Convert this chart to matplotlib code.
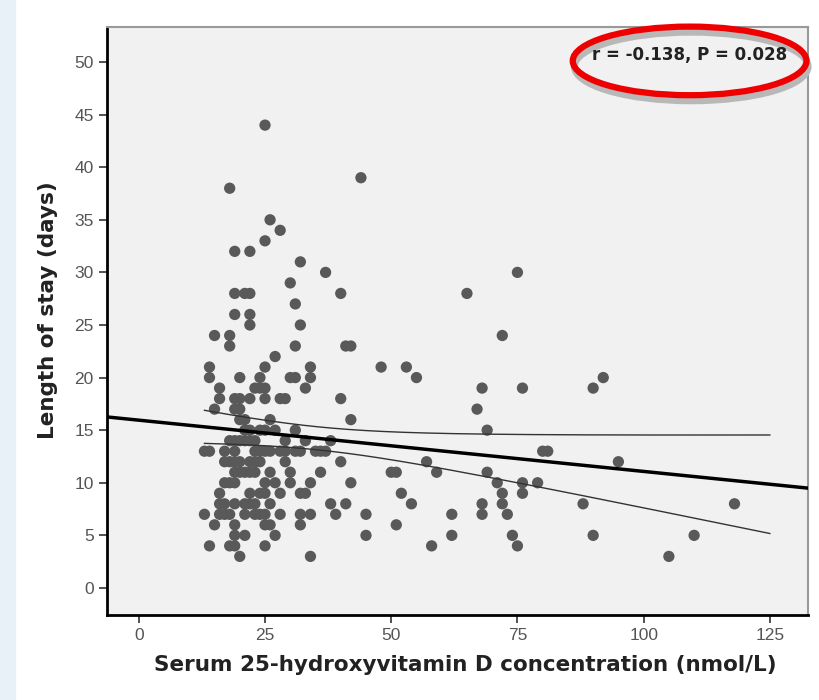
import numpy as np
import matplotlib
matplotlib.use("Agg")
import matplotlib.pyplot as plt
from matplotlib.patches import Ellipse, Rectangle

plt.rcParams["font.family"] = ["Liberation Sans", "DejaVu Sans"]

# Serum 25(OH)D (nmol/L) and length of stay (days)
vit_d = [
    25, 44, 18, 26, 28, 25, 19, 22, 32, 37, 75, 30,
    19, 21, 22, 40, 65, 31, 19, 22, 22, 32, 15, 18, 72,
    18, 31, 41, 42, 27, 14, 25, 34, 48, 53,
    14, 20, 24, 30, 31, 34, 55, 92,
    16, 23, 24, 25, 33, 68, 76, 90,
    16, 19, 20, 22, 25, 28, 29, 40,
    15, 19, 20, 67,
    20, 21, 26, 42,
    21, 22, 24, 25, 27, 31, 69,
    18, 19, 20, 21, 22, 23, 29, 33, 38,
    13, 14, 17, 19, 23, 24, 25, 26, 28, 29, 31, 32, 35, 36, 37, 80, 81,
    17, 18, 19, 20, 22, 23, 24, 29, 40, 57, 95,
    19, 20, 21, 22, 23, 26, 30, 36, 50, 51, 59, 69,
    17, 18, 19, 25, 27, 30, 34, 42, 71, 76, 79,
    16, 22, 24, 25, 28, 32, 33, 52, 72, 76,
    16, 17, 19, 21, 22, 23, 26, 38, 41, 54, 68, 72, 88, 118,
    13, 16, 17, 18, 21, 23, 24, 25, 28, 32, 34, 39, 45, 62, 68, 73,
    15, 19, 25, 26, 32, 51,
    19, 21, 27, 45, 62, 74, 90, 110,
    14, 18, 19, 25, 58, 75,
    20, 34, 105,
]
stay_days = [
    44, 39, 38, 35, 34, 33, 32, 32, 31, 30, 30, 29,
    28, 28, 28, 28, 28, 27, 26, 26, 25, 25, 24, 24, 24,
    23, 23, 23, 23, 22, 21, 21, 21, 21, 21,
    20, 20, 20, 20, 20, 20, 20, 20,
    19, 19, 19, 19, 19, 19, 19, 19,
    18, 18, 18, 18, 18, 18, 18, 18,
    17, 17, 17, 17,
    16, 16, 16, 16,
    15, 15, 15, 15, 15, 15, 15,
    14, 14, 14, 14, 14, 14, 14, 14, 14,
    13, 13, 13, 13, 13, 13, 13, 13, 13, 13, 13, 13, 13, 13, 13, 13, 13,
    12, 12, 12, 12, 12, 12, 12, 12, 12, 12, 12,
    11, 11, 11, 11, 11, 11, 11, 11, 11, 11, 11, 11,
    10, 10, 10, 10, 10, 10, 10, 10, 10, 10, 10,
    9, 9, 9, 9, 9, 9, 9, 9, 9, 9,
    8, 8, 8, 8, 8, 8, 8, 8, 8, 8, 8, 8, 8, 8,
    7, 7, 7, 7, 7, 7, 7, 7, 7, 7, 7, 7, 7, 7, 7, 7,
    6, 6, 6, 6, 6, 6,
    5, 5, 5, 5, 5, 5, 5, 5,
    4, 4, 4, 4, 4, 4,
    3, 3, 3,
]
stats_label = "r = -0.138, P = 0.028"
x_ticks = [0, 25, 50, 75, 100, 125]
y_ticks = [0, 5, 10, 15, 20, 25, 30, 35, 40, 45, 50]

x = np.array(vit_d, dtype=float)
y = np.array(stay_days, dtype=float)

# linear fit + 95% CI of the mean
n = len(x)
slope, intercept = np.polyfit(x, y, 1)
resid = y - (intercept + slope * x)
s = np.sqrt(np.sum(resid ** 2) / (n - 2))
xx = np.linspace(x.min(), 125, 200)
se = s * np.sqrt(1 / n + (xx - x.mean()) ** 2 / np.sum((x - x.mean()) ** 2))
fit = intercept + slope * xx

fig = plt.figure(figsize=(8.2, 7), dpi=100, facecolor="white")
fig.patches.append(Rectangle((0, 0), 0.018, 1, transform=fig.transFigure,
                             color="#e8f0f8", zorder=0))
ax = fig.add_axes([0.1305, 0.121, 0.8545, 0.84])
ax.set_facecolor("#f0f1f0")

ax.scatter(x, y, s=66, color="#595959", edgecolors="none", zorder=3)

xl = np.array([-6.3, 132.5])
ax.plot(xl, intercept + slope * xl, color="black", lw=2.5, zorder=4)
ax.plot(xx, fit + 1.97 * se, color="#333333", lw=1.0, zorder=4)
ax.plot(xx, fit - 1.97 * se, color="#333333", lw=1.0, zorder=4)

ax.set_xlim(-6.3, 132.5)
ax.set_ylim(-2.6, 53.3)
ax.set_xticks(x_ticks)
ax.set_yticks(y_ticks)
ax.tick_params(direction="out", length=6, width=1.2, colors="#333333",
               labelcolor="#555555", labelsize=12.5)

for side in ["left", "bottom"]:
    ax.spines[side].set_color("black")
    ax.spines[side].set_linewidth(2)
for side in ["top", "right"]:
    ax.spines[side].set_color("#999999")
    ax.spines[side].set_linewidth(1.5)

ax.set_xlabel("Serum 25-hydroxyvitamin D concentration (nmol/L)",
              fontsize=15.5, fontweight="bold", color="#222222", labelpad=8,
              family="DejaVu Sans")
ax.set_ylabel("Length of stay (days)", fontsize=15.5, fontweight="bold",
              color="#222222", labelpad=12, family="DejaVu Sans")
ax.xaxis.label.set_x(0.511)
ax.yaxis.label.set_y(0.519)

# highlighted statistics
fig.patches.append(Ellipse((0.843, 0.905), 0.285, 0.098, transform=fig.transFigure,
                           fill=False, edgecolor="#b8b8b8", lw=5, zorder=5))
fig.patches.append(Ellipse((0.841, 0.913), 0.285, 0.098, transform=fig.transFigure,
                           fill=False, edgecolor="#ee0000", lw=4.5, zorder=6))
fig.text(0.841, 0.921, stats_label, ha="center", va="center",
         fontsize=12, fontweight="bold", color="#222222", zorder=7,
         family="DejaVu Sans")

fig.savefig("out.png", dpi=100)
